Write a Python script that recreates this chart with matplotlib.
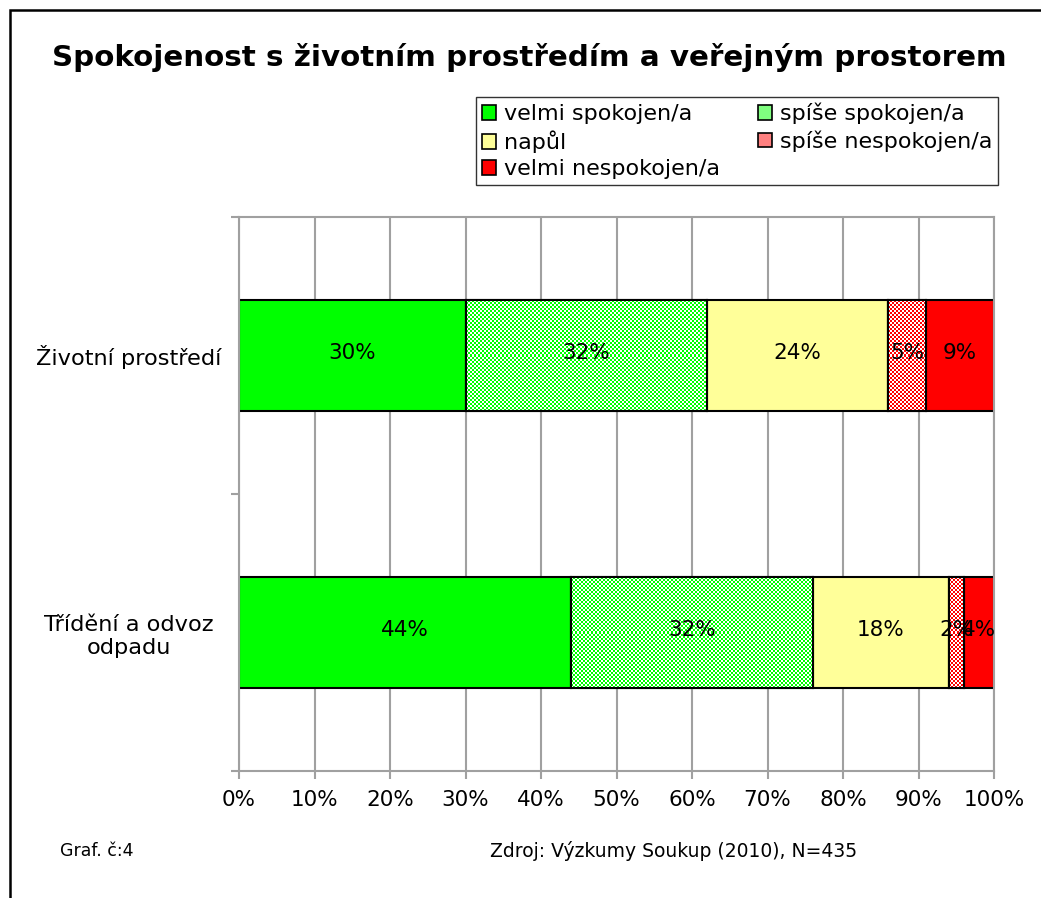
import matplotlib
matplotlib.use("Agg")
import matplotlib.pyplot as plt
import numpy as np
from matplotlib.patches import Patch, Rectangle

# data
categories = ["Životní prostředí", "Třídění a odvoz\nodpadu"]
series = ["velmi spokojen/a", "spíše spokojen/a", "napůl",
          "spíše nespokojen/a", "velmi nespokojen/a"]
zivotni = [30, 32, 24, 5, 9]
trideni = [44, 32, 18, 2, 4]
colors = ["#00FF00", "#00FF00", "#FFFF99", "#FF0000", "#FF0000"]
checkered = [False, True, False, True, False]
legend_colors = ["#00FF00", "#80FF80", "#FFFF99", "#FF8080", "#FF0000"]
xticks = [0, 10, 20, 30, 40, 50, 60, 70, 80, 90, 100]

plt.rcParams["font.family"] = ["DejaVu Sans"]

fig = plt.figure(figsize=(10.41, 8.98), dpi=100)
ax = fig.add_axes([0.2296, 0.1414, 0.7253, 0.617])

values = np.array([zivotni, trideni])
ypos = [1, 0]
ax.set_xlim(0, 100)
ax.set_ylim(-0.5, 1.5)

grid_c = "#a0a0a0"
for x in xticks:
    ax.axvline(x, color=grid_c, lw=1.5, zorder=0)

left = np.zeros(2)
for i, name in enumerate(series):
    w = values[:, i]
    bars = ax.barh(ypos, w, left=left, height=0.4, color=colors[i],
                   edgecolor="black", linewidth=1.5, zorder=2)
    if checkered[i]:
        # fine 2px checkerboard fill like the original pattern
        for b in bars:
            x0, y0 = b.get_x(), b.get_y()
            bw, bh = b.get_width(), b.get_height()
            (px0, py0), (px1, py1) = ax.transData.transform([(x0, y0), (x0 + bw, y0 + bh)])
            nx = max(1, int(round((px1 - px0) / 2)))
            ny = max(1, int(round((py1 - py0) / 2)))
            board = (np.add.outer(np.arange(ny), np.arange(nx)) % 2).astype(float)
            rgb = np.array(matplotlib.colors.to_rgb(colors[i]))
            img = np.ones((ny, nx, 3))
            img[board == 1] = rgb
            im = ax.imshow(img, extent=(x0, x0 + bw, y0, y0 + bh), aspect="auto",
                           interpolation="nearest", zorder=2.5)
            im.set_clip_path(b)
            ax.add_patch(Rectangle((x0, y0), bw, bh, fill=False, edgecolor="black",
                                   linewidth=1.5, zorder=3))
    for y, l, v in zip(ypos, left, w):
        ax.text(l + v / 2, y + 0.01, f"{v}%", ha="center", va="center",
                fontsize=15.5, zorder=5)
    left = left + w

ax.set_aspect("auto")
ax.set_xlim(0, 100)
ax.set_ylim(-0.5, 1.5)

ax.set_xticks(xticks)
ax.set_xticklabels([f"{x}%" for x in xticks], fontsize=15.5)
ax.set_yticks([-0.5, 0.5, 1.5])
ax.set_yticklabels([])
ax.set_yticks(ypos, minor=True)
ax.set_yticklabels(categories, minor=True, fontsize=16.2, ha="center")
ax.tick_params(axis="y", which="minor", length=0, pad=79.5)
ax.tick_params(axis="both", which="major", color=grid_c, width=1.5, length=6)
ax.tick_params(axis="x", pad=8)
for s in ax.spines.values():
    s.set_color(grid_c)
    s.set_linewidth(1.5)

handles = [Patch(facecolor=legend_colors[k], edgecolor="black", linewidth=1.2)
           for k in [0, 2, 4, 1, 3]]
labels = [series[k] for k in [0, 2, 4, 1, 3]]
leg = fig.legend(handles, labels, ncol=2, loc="upper left",
                 bbox_to_anchor=(476 / 1041, 1 - 97 / 898), fontsize=16,
                 frameon=True, fancybox=False, handlelength=0.65, handleheight=0.65,
                 handletextpad=0.35, columnspacing=1.7, labelspacing=0.28,
                 borderpad=0.25, borderaxespad=0)
leg.get_frame().set_edgecolor("black")
leg.get_frame().set_linewidth(1.0)

fig.text(529 / 1041, 1 - 57 / 898, "Spokojenost s životním prostředím a veřejným prostorem",
         ha="center", va="center", fontsize=21.2, fontweight="bold")
fig.text(60 / 1041, 1 - 851 / 898, "Graf. č:4", ha="left", va="center", fontsize=12.5)
fig.text(490 / 1041, 1 - 851 / 898, "Zdroj: Výzkumy Soukup (2010), N=435",
         ha="left", va="center", fontsize=13.5)

fig.add_artist(Rectangle((10 / 1041, -0.05), 1.1, 1.05 - 10 / 898, fill=False,
                         edgecolor="black", linewidth=1.8, transform=fig.transFigure))

fig.savefig("out.png", dpi=100)
